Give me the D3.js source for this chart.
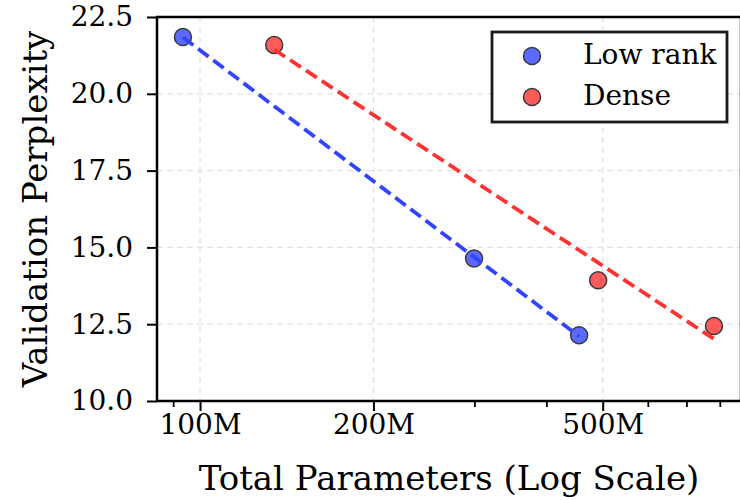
<!DOCTYPE html>
<html>
<head>
<meta charset="utf-8">
<script src="https://cdn.jsdelivr.net/npm/d3@7"></script>
<style>
  body { margin: 0; background: #fff; }
  svg { display: block; font-family: "DejaVu Serif", serif; }
</style>
</head>
<body>
<div class="chart"></div>
<script>
// parameters in millions, perplexity
var lowRankParams = [93.4, 299, 455];
var lowRankPpl = [21.85, 14.64, 12.14];
var denseParams = [134.5, 491, 780];
var densePpl = [21.59, 13.93, 12.44];

var xMajor = [100, 200, 500];
var xMinor = [90, 300, 400, 600, 700, 800, 900];
var yTicks = [10, 12.5, 15, 17.5, 20, 22.5];

var width = 740, height = 500;
var plotL = 157, plotR = 741, plotT = 17, plotB = 401;

var series = [
    { label: 'Low rank', xs: lowRankParams, ys: lowRankPpl, line: '#3344ff', fill: '#5b6bff' },
    { label: 'Dense', xs: denseParams, ys: densePpl, line: '#ff3333', fill: '#ff5b5b' }
];

var svg = d3.select('.chart').append('svg')
    .attr('width', width)
    .attr('height', height);

var x = d3.scaleLog().domain([84.2, 869]).range([plotL, plotR]);
var y = d3.scaleLinear().domain([10, 22.5]).range([plotB, plotT]);

// grid
var grid = svg.append('g').attr('class', 'grid');
grid.selectAll('line.gx').data(xMajor).enter().append('line')
    .attr('x1', d => x(d)).attr('x2', d => x(d))
    .attr('y1', plotT).attr('y2', plotB)
    .style('stroke', '#e2e2e2').style('stroke-width', 1.3)
    .style('stroke-dasharray', '6,4');
grid.selectAll('line.gy').data(yTicks).enter().append('line')
    .attr('x1', plotL).attr('x2', plotR)
    .attr('y1', d => y(d)).attr('y2', d => y(d))
    .style('stroke', '#e2e2e2').style('stroke-width', 1.3)
    .style('stroke-dasharray', '6,4');

// least squares fit of perplexity against log10(params)
function fit(xs, ys) {
    var lx = xs.map(v => Math.log10(v));
    var mx = d3.mean(lx), my = d3.mean(ys);
    var sxy = d3.sum(lx, (v, i) => (v - mx) * (ys[i] - my));
    var sxx = d3.sum(lx, v => (v - mx) * (v - mx));
    var b = sxy / sxx, a = my - b * mx;
    var x0 = d3.min(xs), x1 = d3.max(xs);
    return [[x0, a + b * Math.log10(x0)], [x1, a + b * Math.log10(x1)]];
}

var marks = svg.append('g');
series.forEach(function(s) {
    marks.selectAll(null).data(s.xs).enter().append('circle')
        .attr('cx', d => x(d))
        .attr('cy', (d, i) => y(s.ys[i]))
        .attr('r', 8.5)
        .style('fill', s.fill)
        .style('stroke', '#3a3a3a')
        .style('stroke-width', 1.5);
});
series.forEach(function(s) {
    marks.append('path')
        .datum(fit(s.xs, s.ys))
        .attr('d', d3.line().x(d => x(d[0])).y(d => y(d[1])))
        .style('fill', 'none')
        .style('stroke', s.line)
        .style('stroke-width', 3.8)
        .style('stroke-dasharray', '13,6');
});

// axes
var xAxis = svg.append('g').attr('transform', 'translate(0,' + plotB + ')');
xAxis.call(d3.axisBottom(x).tickValues(xMajor).tickFormat(d => d + 'M').tickSize(10).tickPadding(3));
xAxis.append('g').selectAll('line').data(xMinor.filter(d => x(d) < plotR)).enter().append('line')
    .attr('x1', d => x(d)).attr('x2', d => x(d))
    .attr('y1', 0).attr('y2', 6)
    .style('stroke', '#000').style('stroke-width', 1.8);

var yAxis = svg.append('g').attr('transform', 'translate(' + plotL + ',0)');
yAxis.call(d3.axisLeft(y).tickValues(yTicks).tickFormat(d3.format('.1f')).tickSize(10).tickPadding(14));

svg.selectAll('.domain').remove();
svg.selectAll('.tick line').style('stroke', '#000').style('stroke-width', 2);
svg.selectAll('.tick text').style('font-family', '"DejaVu Serif", serif').style('font-size', '28px').style('fill', '#000');

// spines
svg.append('rect')
    .attr('x', plotL).attr('y', plotT)
    .attr('width', plotR - plotL).attr('height', plotB - plotT)
    .style('fill', 'none').style('stroke', '#000').style('stroke-width', 2.5);

svg.append('text')
    .attr('x', (plotL + plotR) / 2).attr('y', 490)
    .attr('text-anchor', 'middle')
    .style('font-size', '34px')
    .text('Total Parameters (Log Scale)');

svg.append('text')
    .attr('transform', 'translate(47,' + (plotT + plotB) / 2 + ') rotate(-90)')
    .attr('text-anchor', 'middle')
    .style('font-size', '34px')
    .text('Validation Perplexity');

// legend
var legend = svg.append('g');
legend.append('rect')
    .attr('x', 492).attr('y', 32).attr('width', 235).attr('height', 90)
    .style('fill', '#fff').style('stroke', '#1a1a1a').style('stroke-width', 2.8);
var items = legend.selectAll('g.item').data(series).enter().append('g')
    .attr('transform', (d, i) => 'translate(0,' + (56 + i * 41) + ')');
items.append('circle')
    .attr('cx', 532).attr('cy', 0).attr('r', 8.5)
    .style('fill', d => d.fill).style('stroke', '#3a3a3a').style('stroke-width', 1.5);
items.append('text')
    .attr('x', 583).attr('y', 8)
    .style('font-size', '28px')
    .text(d => d.label);
</script>
</body>
</html>
